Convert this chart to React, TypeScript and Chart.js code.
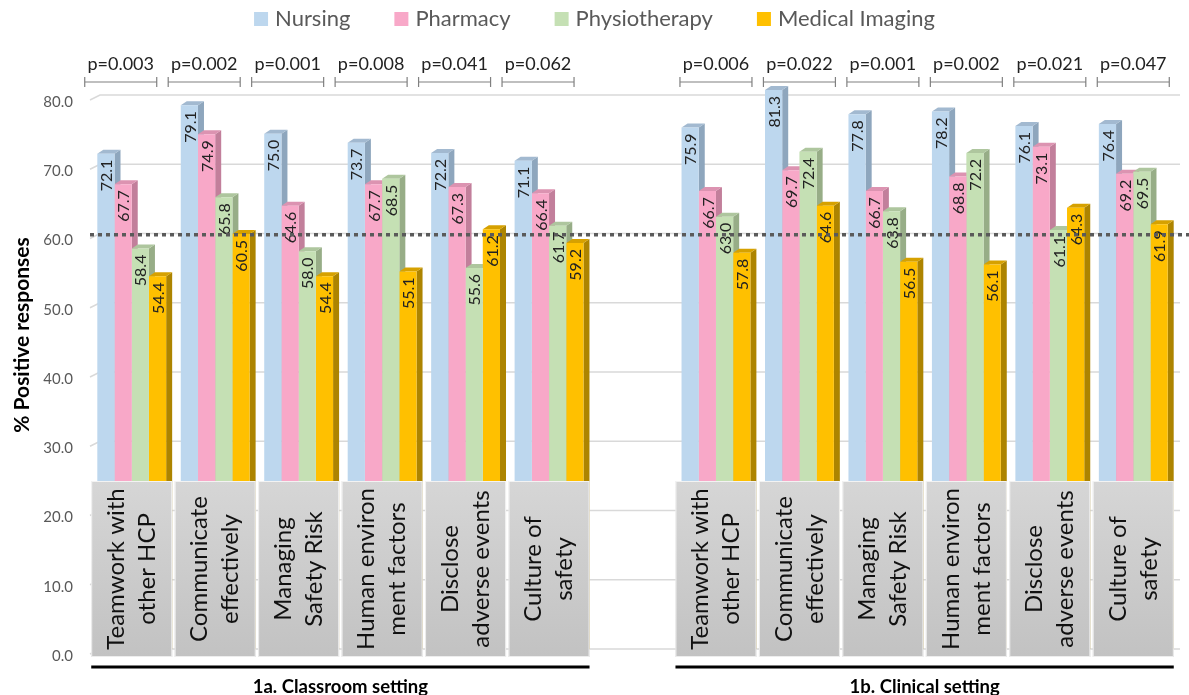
import React, { useEffect, useRef } from "react";
import { Chart, registerables } from "chart.js";

Chart.register(...registerables);

// ---------- data ----------
const CATEGORIES: string[][] = [
  ["Teamwork with", "other HCP"],
  ["Communicate", "effectively"],
  ["Managing", "Safety Risk"],
  ["Human environ", "ment factors"],
  ["Disclose", "adverse events"],
  ["Culture of", "safety"],
];
const GROUPS = ["1a. Classroom setting", "1b. Clinical setting"];
const SERIES = ["Nursing", "Pharmacy", "Physiotherapy", "Medical Imaging"];

const CLASS_NURSING = [72.1, 79.1, 75.0, 73.7, 72.2, 71.1];
const CLASS_PHARMACY = [67.7, 74.9, 64.6, 67.7, 67.3, 66.4];
const CLASS_PHYSIO = [58.4, 65.8, 58.0, 68.5, 55.6, 61.7];
const CLASS_IMAGING = [54.4, 60.5, 54.4, 55.1, 61.2, 59.2];

const CLIN_NURSING = [75.9, 81.3, 77.8, 78.2, 76.1, 76.4];
const CLIN_PHARMACY = [66.7, 69.7, 66.7, 68.8, 73.1, 69.2];
const CLIN_PHYSIO = [63.0, 72.4, 63.8, 72.2, 61.1, 69.5];
const CLIN_IMAGING = [57.8, 64.6, 56.5, 56.1, 64.3, 61.9];

const P_CLASSROOM = ["p=0.003", "p=0.002", "p=0.001", "p=0.008", "p=0.041", "p=0.062"];
const P_CLINICAL = ["p=0.006", "p=0.022", "p=0.001", "p=0.002", "p=0.021", "p=0.047"];

const Y_TICKS = [0, 10, 20, 30, 40, 50, 60, 70, 80];
const Y_TITLE = "% Positive responses";
const REFERENCE_LINE = 60.4;

// ---------- styles ----------
const FRONT = ["#bdd7ee", "#f8a8c8", "#c5e0b4", "#ffc000"];
const SIDE = ["#8ea6bd", "#c27f9b", "#97ad87", "#ad8400"];
const TOP = ["#a2b9d0", "#dc93b1", "#aec69e", "#d6a100"];
const DX = 6;
const DY = 4;
const FONT = "Lato, 'Open Sans', sans-serif";

const labels: string[][] = [...CATEGORIES, [""], ...CATEGORIES];
const seriesData = [
  [...CLASS_NURSING, null, ...CLIN_NURSING],
  [...CLASS_PHARMACY, null, ...CLIN_PHARMACY],
  [...CLASS_PHYSIO, null, ...CLIN_PHYSIO],
  [...CLASS_IMAGING, null, ...CLIN_IMAGING],
];
const pLabels = [...P_CLASSROOM, null, ...P_CLINICAL];
const GAP_INDEX = CATEGORIES.length;

const decorations = {
  id: "decorations",
  beforeDatasetsDraw(chart: any) {
    const { ctx, chartArea, scales } = chart;
    const y = scales.y;
    ctx.save();
    // back-wall gridlines
    ctx.strokeStyle = "#d9d9d9";
    ctx.lineWidth = 1.5;
    for (const v of Y_TICKS) {
      const yy = y.getPixelForValue(v);
      ctx.beginPath();
      ctx.moveTo(chartArea.left, yy + 1);
      ctx.lineTo(chartArea.left + 10, yy - 4);
      ctx.lineTo(chartArea.right + 5, yy - 4);
      ctx.stroke();
    }
    // side and top faces of bars
    chart.data.datasets.forEach((ds: any, di: number) => {
      const meta = chart.getDatasetMeta(di);
      meta.data.forEach((bar: any, i: number) => {
        if (ds.data[i] == null) return;
        const { x, y: top, base, width } = bar.getProps(["x", "y", "base", "width"], true);
        const x0 = x - width / 2;
        const x1 = x + width / 2;
        ctx.fillStyle = SIDE[di];
        ctx.beginPath();
        ctx.moveTo(x1, top);
        ctx.lineTo(x1 + DX, top - DY);
        ctx.lineTo(x1 + DX, base - DY);
        ctx.lineTo(x1, base);
        ctx.closePath();
        ctx.fill();
        ctx.fillStyle = TOP[di];
        ctx.beginPath();
        ctx.moveTo(x0, top);
        ctx.lineTo(x0 + DX, top - DY);
        ctx.lineTo(x1 + DX, top - DY);
        ctx.lineTo(x1, top);
        ctx.closePath();
        ctx.fill();
      });
    });
    ctx.restore();
  },
  afterDatasetsDraw(chart: any) {
    const { ctx, chartArea, scales } = chart;
    const x = scales.x;
    const y = scales.y;
    const y0 = y.getPixelForValue(0);
    const boxBottom = y0 + 4;
    const boxTop = y0 - 172;
    const half = 40.5;
    ctx.save();

    // category boxes with labels
    labels.forEach((lines, i) => {
      if (i === GAP_INDEX) return;
      const cx = x.getPixelForValue(i);
      const g = ctx.createLinearGradient(0, boxTop, 0, boxBottom);
      g.addColorStop(0, "#d6d6d6");
      g.addColorStop(1, "#c2c2c2");
      ctx.fillStyle = g;
      ctx.fillRect(cx - half, boxTop, half * 2, boxBottom - boxTop);
      ctx.strokeStyle = "rgba(255,255,255,0.7)";
      ctx.lineWidth = 1;
      ctx.strokeRect(cx - half + 0.5, boxTop + 0.5, half * 2 - 1, boxBottom - boxTop - 1);
      ctx.save();
      ctx.translate(cx, (boxTop + boxBottom) / 2);
      ctx.rotate(-Math.PI / 2);
      ctx.fillStyle = "#111";
      ctx.font = `24px ${FONT}`;
      ctx.textAlign = "center";
      ctx.textBaseline = "middle";
      const lh = 31;
      lines.forEach((t, li) => {
        ctx.fillText(t, 0, (li - (lines.length - 1) / 2) * lh);
      });
      ctx.restore();
    });

    // value labels inside bars
    chart.data.datasets.forEach((ds: any, di: number) => {
      const meta = chart.getDatasetMeta(di);
      meta.data.forEach((bar: any, i: number) => {
        const v = ds.data[i];
        if (v == null) return;
        const { x: bx, y: top } = bar.getProps(["x", "y"], true);
        ctx.save();
        ctx.translate(bx, top + 6);
        ctx.rotate(-Math.PI / 2);
        ctx.fillStyle = "#222";
        ctx.font = `16px ${FONT}`;
        ctx.textAlign = "right";
        ctx.textBaseline = "middle";
        ctx.fillText(v.toFixed(1), 0, 1);
        ctx.restore();
      });
    });

    // dotted reference line
    const ry = y.getPixelForValue(REFERENCE_LINE);
    ctx.strokeStyle = "#5a5a5a";
    ctx.lineWidth = 3.5;
    ctx.setLineDash([4, 4]);
    ctx.beginPath();
    ctx.moveTo(chartArea.left, ry);
    ctx.lineTo(chart.width, ry);
    ctx.stroke();
    ctx.setLineDash([]);

    // group underlines and labels
    const groupRanges = [
      [0, GAP_INDEX - 1],
      [GAP_INDEX + 1, labels.length - 1],
    ];
    groupRanges.forEach(([a, b], gi) => {
      const left = x.getPixelForValue(a) - half;
      const right = x.getPixelForValue(b) + half;
      ctx.strokeStyle = "#000";
      ctx.lineWidth = 3;
      ctx.beginPath();
      ctx.moveTo(left, y0 + 14);
      ctx.lineTo(right, y0 + 14);
      ctx.stroke();
      ctx.fillStyle = "#000";
      ctx.font = `bold 18.5px ${FONT}`;
      ctx.textAlign = "center";
      ctx.textBaseline = "middle";
      ctx.fillText(GROUPS[gi], (left + right) / 2, y0 + 34);
    });

    // p-values with brackets
    pLabels.forEach((p, i) => {
      if (p == null) return;
      const shift = i < GAP_INDEX ? -11 : 0;
      const cx = x.getPixelForValue(i) + shift;
      const hw = 36;
      ctx.strokeStyle = "#808080";
      ctx.lineWidth = 1.2;
      ctx.beginPath();
      ctx.moveTo(cx - hw, 82);
      ctx.lineTo(cx + hw, 82);
      ctx.moveTo(cx - hw, 77);
      ctx.lineTo(cx - hw, 87);
      ctx.moveTo(cx + hw, 77);
      ctx.lineTo(cx + hw, 87);
      ctx.stroke();
      ctx.fillStyle = "#222";
      ctx.font = `18px ${FONT}`;
      ctx.textAlign = "center";
      ctx.textBaseline = "middle";
      ctx.fillText(p, cx, 64);
    });

    // legend
    ctx.font = `22px ${FONT}`;
    const sq = 14;
    const gapText = 7;
    const gapItem = 44;
    const widths = SERIES.map((s) => sq + gapText + ctx.measureText(s).width);
    const total = widths.reduce((a, b) => a + b, 0) + gapItem * (SERIES.length - 1);
    let lx = chart.width / 2 - total / 2;
    SERIES.forEach((s, si) => {
      ctx.fillStyle = FRONT[si];
      ctx.fillRect(lx, 19 - sq / 2, sq, sq);
      ctx.fillStyle = "#595959";
      ctx.textAlign = "left";
      ctx.textBaseline = "middle";
      ctx.fillText(s, lx + sq + gapText, 19);
      lx += widths[si] + gapItem;
    });

    // y-axis title
    ctx.save();
    ctx.translate(22, 335);
    ctx.rotate(-Math.PI / 2);
    ctx.fillStyle = "#000";
    ctx.font = `bold 21px ${FONT}`;
    ctx.textAlign = "center";
    ctx.textBaseline = "middle";
    ctx.fillText(Y_TITLE, 0, 0);
    ctx.restore();

    ctx.restore();
  },
};

export default function App() {
  const ref = useRef<HTMLCanvasElement>(null);
  useEffect(() => {
    const chart = new Chart(ref.current as HTMLCanvasElement, {
      type: "bar",
      data: {
        labels,
        datasets: SERIES.map((name, si) => ({
          label: name,
          data: seriesData[si],
          backgroundColor: FRONT[si],
          borderWidth: 0,
          barPercentage: 1,
          categoryPercentage: 0.825,
          clip: false as any,
        })),
      },
      options: {
        animation: false,
        responsive: true,
        maintainAspectRatio: false,
        events: [],
        layout: { padding: { left: 0, right: 14, top: 99, bottom: 42 } },
        plugins: {
          legend: { display: false },
          tooltip: { enabled: false },
        },
        scales: {
          x: { display: false },
          y: {
            min: 0,
            max: 80,
            afterFit: (s: any) => {
              s.width = 90;
            },
            grid: { display: false, drawTicks: false },
            border: { display: false },
            ticks: {
              stepSize: 10,
              padding: 17,
              labelOffset: 3,
              color: "#595959",
              font: { family: FONT, size: 15 },
              callback: (v: any) => Number(v).toFixed(1),
            },
          },
        },
      },
      plugins: [decorations],
    });
    return () => chart.destroy();
  }, []);
  return (
    <div
      style={{
        position: "fixed",
        left: 0,
        top: 0,
        width: 1189,
        height: 695,
        background: "#fff",
      }}
    >
      <canvas ref={ref} />
    </div>
  );
}
